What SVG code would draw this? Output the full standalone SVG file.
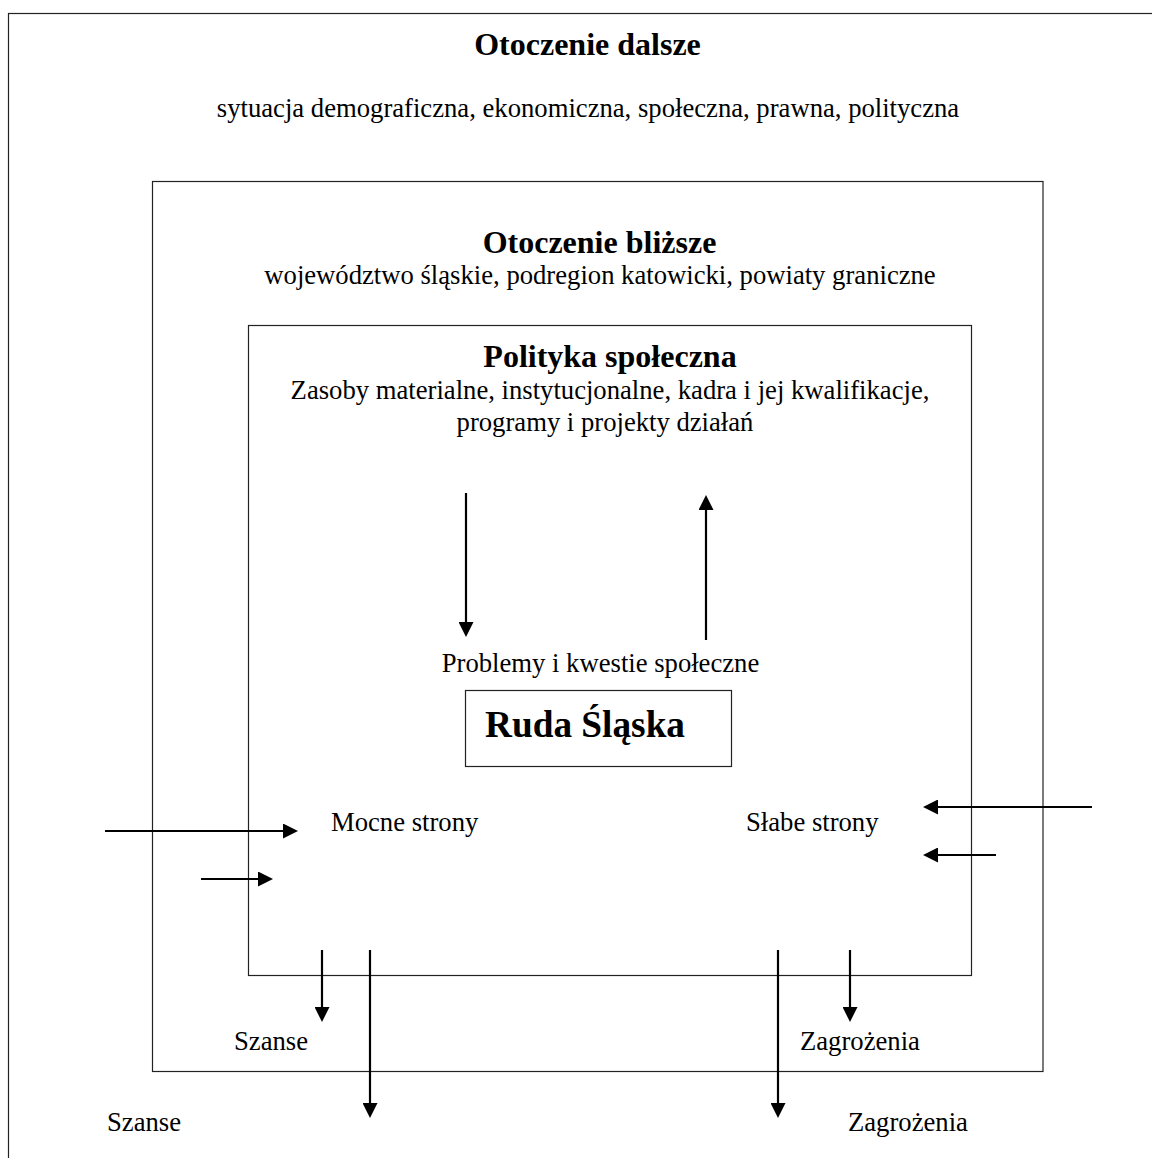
<svg xmlns="http://www.w3.org/2000/svg" width="1152" height="1158" viewBox="0 0 1152 1158">
<style>
.box{fill:none;stroke:#222;stroke-width:1.2}
.t{font-family:"Liberation Serif","Times New Roman",serif;font-size:26.67px;fill:#000}
.h{font-family:"Liberation Serif","Times New Roman",serif;font-size:32px;font-weight:bold;fill:#000}
.c{text-anchor:middle}
.ar{stroke:#000;stroke-width:2.2;fill:none;marker-end:url(#ah)}
</style>
<defs>
<marker id="ah" markerWidth="15" markerHeight="15" refX="5" refY="7.5" orient="auto" markerUnits="userSpaceOnUse">
<path d="M0,0 L15,7.5 L0,15 z" fill="#000"/>
</marker>
</defs>
<rect width="1152" height="1158" fill="#fff"/>
<g id="outer">
<rect class="box" x="8.5" y="13.5" width="1150" height="1150"/>
<text class="h c" x="587.5" y="55">Otoczenie dalsze</text>
<text class="t c" x="588" y="117">sytuacja demograficzna, ekonomiczna, społeczna, prawna, polityczna</text>
<text class="t" x="107" y="1131">Szanse</text>
<text class="t" x="848" y="1131">Zagrożenia</text>
</g>
<g id="middle">
<rect class="box" x="152.5" y="181.5" width="890.5" height="890"/>
<text class="h c" x="599.5" y="253">Otoczenie bliższe</text>
<text class="t c" x="600" y="284">województwo śląskie, podregion katowicki, powiaty graniczne</text>
<text class="t" x="234" y="1050">Szanse</text>
<text class="t" x="800" y="1050">Zagrożenia</text>
</g>
<g id="inner">
<rect class="box" x="248.5" y="325.5" width="723" height="650"/>
<text class="h c" x="610" y="367">Polityka społeczna</text>
<text class="t c" x="610" y="399">Zasoby materialne, instytucjonalne, kadra i jej kwalifikacje,</text>
<text class="t c" x="605" y="431">programy i projekty działań</text>
<text class="t c" x="600.5" y="672">Problemy i kwestie społeczne</text>
<text class="t" x="331" y="831">Mocne strony</text>
<text class="t" x="746" y="831">Słabe strony</text>
</g>
<g id="ruda">
<rect class="box" x="465.5" y="690.5" width="266" height="76"/>
<text x="585" y="737" font-family="'Liberation Serif','Times New Roman',serif" font-size="37.3" font-weight="bold" text-anchor="middle">Ruda Śląska</text>
</g>
<g id="connectors">
<line class="ar" x1="466" y1="493" x2="466" y2="627"/>
<line class="ar" x1="706" y1="640" x2="706" y2="505"/>
<line class="ar" x1="105" y1="831" x2="288" y2="831"/>
<line class="ar" x1="201" y1="879" x2="263" y2="879"/>
<line class="ar" x1="1092" y1="807" x2="933" y2="807"/>
<line class="ar" x1="996" y1="855" x2="933" y2="855"/>
<line class="ar" x1="322" y1="950" x2="322" y2="1012"/>
<line class="ar" x1="370" y1="950" x2="370" y2="1108"/>
<line class="ar" x1="778" y1="950" x2="778" y2="1108"/>
<line class="ar" x1="850" y1="950" x2="850" y2="1012"/>
</g>
</svg>
